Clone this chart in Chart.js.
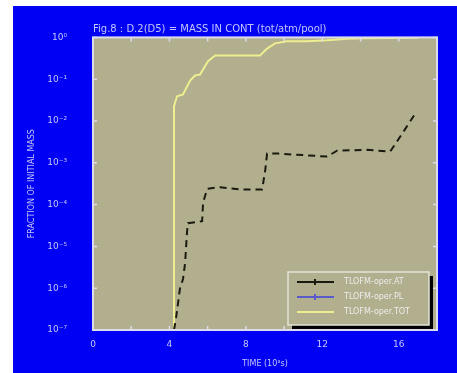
<!DOCTYPE html>
<html>
<head>
<meta charset="utf-8">
<script src="https://cdn.jsdelivr.net/npm/chart.js@4"></script>
<style>
  body { margin:0; background:#fff; }
  #box { position:absolute; left:13px; top:6px; width:444px; height:367px; background:#0000f5; }
</style>
</head>
<body>
<div id="box"><canvas id="chart"></canvas></div>
<script>
// series (time in 10^3 s, fraction of initial mass)
const atTime  = [4.24, 4.35, 4.55, 4.71, 4.82, 4.92, 4.97, 5.71, 5.76, 5.97, 6.65, 7.70, 8.85, 9.01, 9.11, 9.69, 12.25, 12.77, 14.35, 15.55, 15.92, 16.86];
const atFrac  = [1e-7, 2.0e-7, 9.8e-7, 1.66e-6, 4.0e-6, 2.24e-5, 3.6e-5, 4.0e-5, 1.1e-4, 2.4e-4, 2.6e-4, 2.3e-4, 2.3e-4, 6.5e-4, 1.66e-3, 1.66e-3, 1.41e-3, 1.95e-3, 2.04e-3, 1.86e-3, 3.3e-3, 1.5e-2];
const plTime  = [];
const plFrac  = [];
const totTime = [4.24, 4.24, 4.40, 4.71, 5.08, 5.34, 5.60, 6.02, 6.39, 8.74, 9.11, 9.53, 10.16, 11.20, 12.25, 13.30, 14.14, 17.0];
const totFrac = [1e-7, 0.023, 0.039, 0.043, 0.093, 0.123, 0.129, 0.27, 0.37, 0.37, 0.54, 0.72, 0.81, 0.81, 0.85, 0.93, 0.95, 0.98];

const seriesNames = ['TLOFM-oper.AT', 'TLOFM-oper.PL', 'TLOFM-oper.TOT'];
const xTickLabels = [0, 4, 8, 12, 16];
const yTickValues = [1, 1e-1, 1e-2, 1e-3, 1e-4, 1e-5, 1e-6, 1e-7];
const yTickLabels = ['10⁰', '10⁻¹', '10⁻²', '10⁻³', '10⁻⁴', '10⁻⁵', '10⁻⁶', '10⁻⁷'];
const titleText = 'Fig.8 : D.2(D5) = MASS IN CONT (tot/atm/pool)';

const txt = '#c4c4ff';
const pts = (xs, ys) => xs.map((x, i) => ({x: x, y: ys[i]}));

// khaki plot area, white frame, inward ticks
const frame = {
  id: 'frame',
  beforeDatasetsDraw(chart) {
    const a = chart.chartArea, c = chart.ctx;
    c.save();
    c.fillStyle = '#b1af8d';
    c.fillRect(a.left, a.top, a.right - a.left, a.bottom - a.top);
    c.restore();
  },
  afterDatasetsDraw(chart) {
    const a = chart.chartArea, c = chart.ctx;
    const xs = chart.scales.x, ys = chart.scales.y;
    c.save();
    c.strokeStyle = '#dcdcec';
    c.lineWidth = 2;
    c.strokeRect(a.left, a.top, a.right - a.left, a.bottom - a.top);
    c.lineWidth = 1.5;
    c.beginPath();
    for (let t = 2; t < 18; t += 2) {
      const px = xs.getPixelForValue(t);
      c.moveTo(px, a.bottom); c.lineTo(px, a.bottom - 4);
      c.moveTo(px, a.top); c.lineTo(px, a.top + 4);
    }
    yTickValues.forEach(v => {
      const py = ys.getPixelForValue(v);
      c.moveTo(a.left, py); c.lineTo(a.left + 4, py);
      c.moveTo(a.right, py); c.lineTo(a.right - 4, py);
    });
    c.stroke();
    // title
    c.fillStyle = txt;
    c.font = '10px "DejaVu Sans"';
    c.textBaseline = 'bottom';
    c.fillText(titleText, a.left, a.top - 3);
    c.restore();
  }
};

// boxed legend with drop shadow in lower right
const boxLegend = {
  id: 'boxLegend',
  afterDraw(chart) {
    const a = chart.chartArea, c = chart.ctx;
    const w = 141, h = 53;
    const x0 = a.right - 8 - w, y0 = a.bottom - 5 - h;
    c.save();
    c.fillStyle = '#000';
    c.fillRect(x0 + 4, y0 + 4, w, h);
    c.fillStyle = '#b1af8d';
    c.fillRect(x0, y0, w, h);
    c.strokeStyle = '#e4e4d8';
    c.lineWidth = 1.5;
    c.strokeRect(x0, y0, w, h);
    c.font = '8px "DejaVu Sans"';
    c.textBaseline = 'middle';
    chart.data.datasets.forEach((ds, i) => {
      const ly = y0 + 10 + i * 15;
      c.strokeStyle = ds.borderColor;
      c.lineWidth = 2;
      c.beginPath();
      c.moveTo(x0 + 9, ly); c.lineTo(x0 + 46, ly);
      c.stroke();
      if (i < 2) {
        c.beginPath();
        c.moveTo(x0 + 27, ly - 3); c.lineTo(x0 + 27, ly + 3);
        c.stroke();
      }
      c.fillStyle = '#ececec';
      c.fillText(ds.label, x0 + 56, ly);
    });
    c.restore();
  }
};

new Chart(document.getElementById('chart'), {
  type: 'line',
  data: {
    datasets: [
      { label: seriesNames[0], data: pts(atTime, atFrac), borderColor: '#1a1a10', borderWidth: 2, borderDash: [7, 5] },
      { label: seriesNames[1], data: pts(plTime, plFrac), borderColor: '#5a5ac8', borderWidth: 2 },
      { label: seriesNames[2], data: pts(totTime, totFrac), borderColor: '#eeee90', borderWidth: 2 }
    ]
  },
  options: {
    responsive: true,
    maintainAspectRatio: false,
    animation: false,
    layout: { padding: { top: 17, right: 20, left: 0, bottom: 0 } },
    elements: { point: { radius: 0 }, line: { tension: 0 } },
    plugins: { legend: { display: false }, title: { display: false }, tooltip: { enabled: false } },
    scales: {
      x: {
        type: 'linear', min: 0, max: 18,
        grid: { display: false, drawTicks: false },
        border: { display: false },
        ticks: {
          stepSize: 2, color: txt, font: { size: 9, family: 'DejaVu Sans' }, padding: 9,
          maxRotation: 0, autoSkip: false,
          callback: v => xTickLabels.includes(v) ? String(v) : ''
        },
        title: { display: true, text: 'TIME (10³s)', color: txt, font: { size: 8, family: 'DejaVu Sans' }, padding: { top: 6 } },
        afterFit: s => { s.height = 43; }
      },
      y: {
        type: 'logarithmic', min: 1e-7, max: 1,
        grid: { display: false, drawTicks: false },
        border: { display: false },
        afterBuildTicks: s => { s.ticks = yTickValues.slice().reverse().map(v => ({value: v})); },
        ticks: {
          color: txt, font: { size: 9, family: 'DejaVu Sans' }, padding: 26, autoSkip: false,
          callback: v => { const i = yTickValues.findIndex(t => Math.abs(t - v) < v * 1e-6); return i < 0 ? '' : yTickLabels[i]; }
        },
        title: { display: true, text: 'FRACTION OF INITIAL MASS', color: txt, font: { size: 8, family: 'DejaVu Sans' }, padding: { top: 14, bottom: 0 } },
        afterFit: s => { s.width = 80; }
      }
    }
  },
  plugins: [frame, boxLegend]
});
</script>
</body>
</html>
